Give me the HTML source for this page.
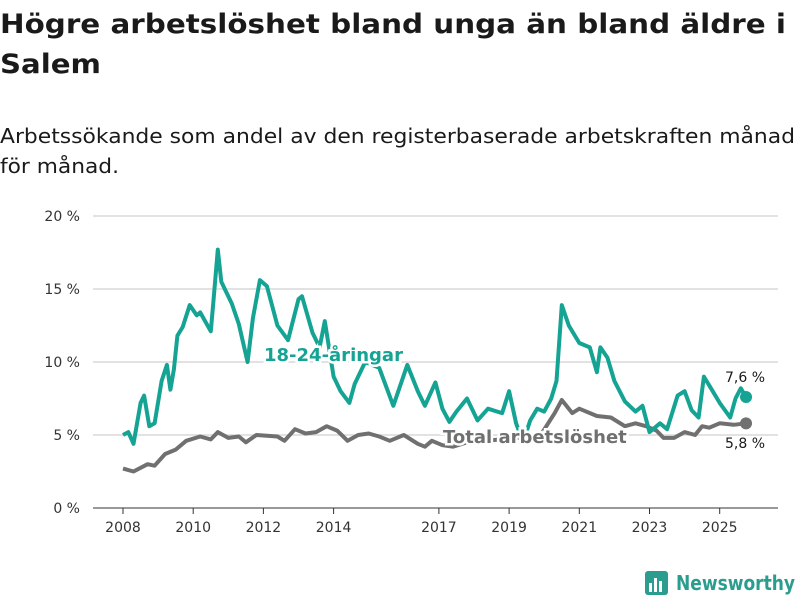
<!DOCTYPE html>
<html><head><meta charset="utf-8"><style>
body{margin:0;background:#fff;}
svg{display:block;font-family:"DejaVu Sans","Liberation Sans",sans-serif;}
</style></head><body>
<svg id="c" width="800" height="600">
<text x="0" y="33" font-size="27" font-weight="bold" fill="#1a1a1a" textLength="786" lengthAdjust="spacingAndGlyphs">Högre arbetslöshet bland unga än bland äldre i</text>
<text x="0" y="73" font-size="27" font-weight="bold" fill="#1a1a1a" textLength="101" lengthAdjust="spacingAndGlyphs">Salem</text>
<text x="0" y="143" font-size="20" fill="#1a1a1a" textLength="795" lengthAdjust="spacingAndGlyphs">Arbetssökande som andel av den registerbaserade arbetskraften månad</text>
<text x="0" y="173" font-size="20" fill="#1a1a1a" textLength="119" lengthAdjust="spacingAndGlyphs">för månad.</text>
<g id="grid"></g><g id="lines"></g><g id="labels"></g>
<g>
<rect x="645" y="571" width="23" height="24" rx="3" fill="#2a9d8f"/>
<rect x="649" y="583" width="3" height="9" fill="#fff"/><rect x="654" y="578" width="3" height="14" fill="#fff"/><rect x="659" y="581" width="3" height="11" fill="#fff"/>
<text x="676" y="590" font-size="20" font-weight="bold" fill="#2a9d8f" textLength="119" lengthAdjust="spacingAndGlyphs">Newsworthy</text>
</g>
</svg>
<script>
const yTicks=[0,5,10,15,20];
const xTicks=[2008,2010,2012,2014,2017,2019,2021,2023,2025];
const youthT=[2008.0,2008.15,2008.3,2008.5,2008.6,2008.75,2008.9,2009.1,2009.25,2009.35,2009.45,2009.55,2009.7,2009.9,2010.1,2010.2,2010.5,2010.58,2010.7,2010.8,2011.1,2011.3,2011.55,2011.7,2011.9,2012.1,2012.4,2012.7,2013.0,2013.1,2013.4,2013.6,2013.75,2014.0,2014.2,2014.45,2014.6,2014.9,2015.3,2015.7,2016.1,2016.4,2016.6,2016.9,2017.1,2017.3,2017.5,2017.8,2018.1,2018.4,2018.8,2019.0,2019.2,2019.4,2019.6,2019.8,2020.0,2020.2,2020.35,2020.5,2020.7,2021.0,2021.3,2021.5,2021.6,2021.8,2022.0,2022.3,2022.6,2022.8,2023.0,2023.3,2023.5,2023.8,2024.0,2024.2,2024.4,2024.55,2024.8,2025.0,2025.3,2025.45,2025.6,2025.75];
const youthV=[5.0,5.2,4.4,7.2,7.7,5.6,5.8,8.7,9.8,8.1,9.5,11.8,12.4,13.9,13.2,13.4,12.1,14.3,17.7,15.5,14.0,12.6,10.0,13.0,15.6,15.2,12.5,11.5,14.3,14.5,12.0,11.0,12.8,9.0,8.0,7.2,8.5,10.0,9.6,7.0,9.8,8.0,7.0,8.6,6.8,5.9,6.6,7.5,6.0,6.8,6.5,8.0,5.8,4.5,6.0,6.8,6.6,7.5,8.7,13.9,12.5,11.3,11.0,9.3,11.0,10.3,8.7,7.3,6.6,7.0,5.2,5.8,5.4,7.7,8.0,6.7,6.2,9.0,8.0,7.2,6.2,7.5,8.2,7.6];
const totalT=[2008.0,2008.3,2008.7,2008.9,2009.2,2009.5,2009.8,2010.2,2010.5,2010.7,2011.0,2011.3,2011.5,2011.8,2012.4,2012.6,2012.9,2013.2,2013.5,2013.8,2014.1,2014.4,2014.7,2015.0,2015.3,2015.6,2016.0,2016.4,2016.6,2016.8,2017.1,2017.4,2017.8,2018.3,2018.8,2019.3,2019.9,2020.3,2020.5,2020.8,2021.0,2021.5,2021.9,2022.3,2022.6,2022.9,2023.2,2023.4,2023.7,2024.0,2024.3,2024.5,2024.7,2025.0,2025.4,2025.75];
const totalV=[2.7,2.5,3.0,2.9,3.7,4.0,4.6,4.9,4.7,5.2,4.8,4.9,4.5,5.0,4.9,4.6,5.4,5.1,5.2,5.6,5.3,4.6,5.0,5.1,4.9,4.6,5.0,4.4,4.2,4.6,4.3,4.2,4.5,4.6,4.7,4.8,5.0,6.5,7.4,6.5,6.8,6.3,6.2,5.6,5.8,5.6,5.3,4.8,4.8,5.2,5.0,5.6,5.5,5.8,5.7,5.8];
const NS="http://www.w3.org/2000/svg";
const X=t=>123+(t-2008)*35.1, Y=v=>508-v*14.6;
function mk(tag,at,parent){const e=document.createElementNS(NS,tag);for(const k in at)e.setAttribute(k,at[k]);parent.appendChild(e);return e;}
const grid=document.getElementById('grid'),lines=document.getElementById('lines'),labels=document.getElementById('labels');
yTicks.forEach(v=>{
 const l=mk('line',{x1:93,x2:778,y1:Y(v),y2:Y(v),stroke:v===0?'#333':'#d9d9d9','stroke-width':v===0?1:1.5},grid);
 
 
 const t=mk('text',{x:80,y:Y(v)+5,'text-anchor':'end','font-size':14,fill:'#333'},grid);t.textContent=v+' %';
 
 
});
xTicks.forEach(y=>{
 const l=mk('line',{x1:X(y),x2:X(y),y1:508,y2:514,stroke:'#333'},grid);
 
 
 const t=mk('text',{x:X(y),y:532,'text-anchor':'middle','font-size':14,fill:'#333'},grid);t.textContent=y;
 
 
});
function path(T,V,col,name){
 const d=T.map((t,i)=>(i?'L':'M')+X(t).toFixed(1)+','+Y(V[i]).toFixed(1)).join('');
 const p=mk('path',{d:d,fill:'none',stroke:col,'stroke-width':4,'stroke-linejoin':'round'},lines);
 
 
 const c=mk('circle',{cx:X(T[T.length-1]),cy:Y(V[V.length-1]),r:6,fill:col},lines);
 
 
}
path(totalT,totalV,'#707070','total-line');
path(youthT,youthV,'#15a394','youth-line');
function lab(x,y,txt,col,name,size,bold,anchor){
 const t=mk('text',{x:x,y:y,'font-size':size,'font-weight':bold?'bold':'normal',fill:col,stroke:'#fff','stroke-width':bold?5:3,'paint-order':'stroke','text-anchor':anchor||'start'},labels);
 t.textContent=txt;
 
 
}
lab(264,361,'18-24-åringar','#15a394','youth-series-label',18,true);
lab(443,443,'Total arbetslöshet','#707070','total-series-label',18,true);
lab(725,382,'7,6 %','#1a1a1a','youth-end-value',14,false);
lab(725,448,'5,8 %','#1a1a1a','total-end-value',14,false);
</script>
</body></html>
